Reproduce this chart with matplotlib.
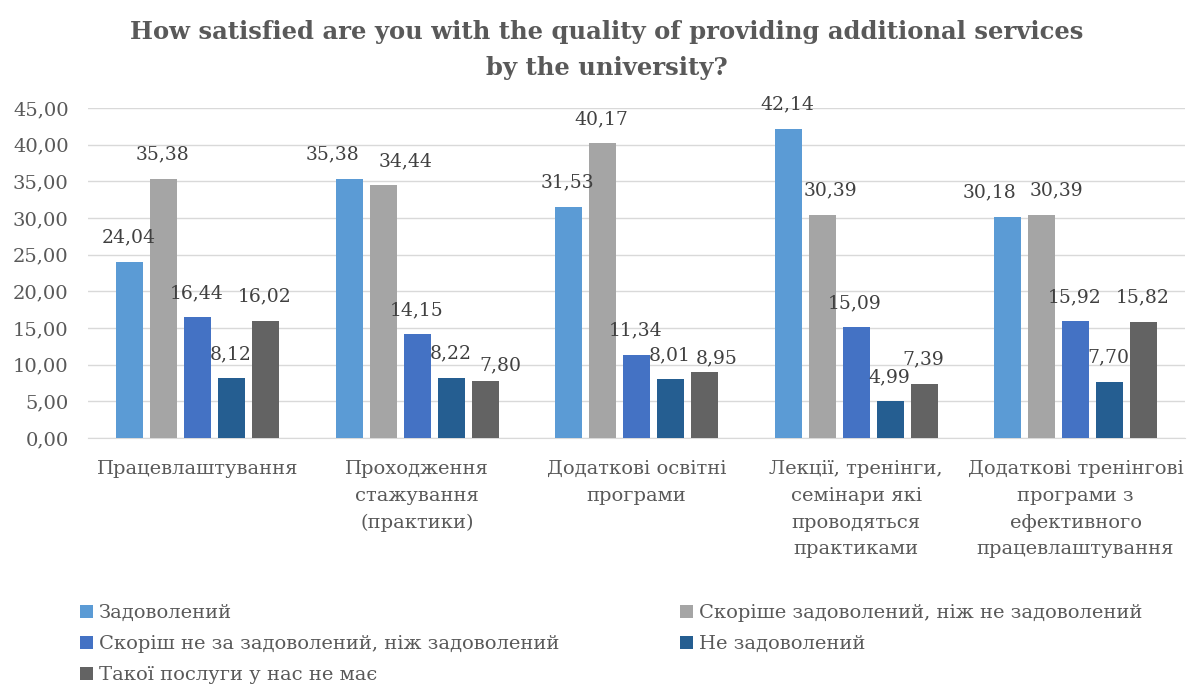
import matplotlib
matplotlib.use("Agg")
import matplotlib.pyplot as plt
import numpy as np
from matplotlib.patches import Patch

plt.rcParams['font.family'] = ['DejaVu Serif']

categories = [
    "Працевлаштування",
    "Проходження\nстажування\n(практики)",
    "Додаткові освітні\nпрограми",
    "Лекції, тренінги,\nсемінари які\nпроводяться\nпрактиками",
    "Додаткові тренінгові\nпрограми з\nефективного\nпрацевлаштування",
]
series_names = [
    "Задоволений",
    "Скоріше задоволений, ніж не задоволений",
    "Скоріш не за задоволений, ніж задоволений",
    "Не задоволений",
    "Такої послуги у нас не має",
]
satisfied = [24.04, 35.38, 31.53, 42.14, 30.18]
rather_satisfied = [35.38, 34.44, 40.17, 30.39, 30.39]
rather_unsatisfied = [16.44, 14.15, 11.34, 15.09, 15.92]
unsatisfied = [8.12, 8.22, 8.01, 4.99, 7.70]
no_service = [16.02, 7.80, 8.95, 7.39, 15.82]
series_values = [satisfied, rather_satisfied, rather_unsatisfied, unsatisfied, no_service]
colors = ["#5B9BD5", "#A5A5A5", "#4472C4", "#255E91", "#636363"]
yticks = [0, 5, 10, 15, 20, 25, 30, 35, 40, 45]

text_gray = "#595959"
label_dark = "#404040"

# Nudges (in points) for value labels that would otherwise collide:
# key = (category index, series index) -> (dx, dy)
label_nudge = {
    (1, 0): (-11.5, 0), (1, 1): (16.5, 0), (1, 4): (11.5, -6),
    (2, 4): (9.5, -7.5), (3, 1): (6.5, 0),
    (4, 0): (-12, 0), (4, 1): (11.5, 0),
}

fig = plt.figure(figsize=(11.9, 6.86), dpi=100)
ax = fig.add_axes([0.074, 0.3615, 0.922, 0.4811])

x = np.arange(len(categories))
step = 0.155
width = 0.123
for i, (name, vals, c) in enumerate(zip(series_names, series_values, colors)):
    pos = x + (i - 2) * step
    bars = ax.bar(pos, vals, width=width, color=c, label=name, zorder=3)
    for j, (b, v) in enumerate(zip(bars, vals)):
        dx, dy = label_nudge.get((j, i), (0, 0))
        ax.annotate(f"{v:.2f}".replace(".", ","),
                    (b.get_x() + b.get_width() / 2, v),
                    xytext=(dx - 0.7, 11 + dy), textcoords="offset points",
                    ha="center", va="bottom", fontsize=13.5, color=label_dark,
                    zorder=4)

ax.set_xlim(-0.5, len(categories) - 0.5)
ax.set_ylim(0, 45)
ax.set_yticks(yticks)
ax.set_yticklabels([f"{t:.2f}".replace(".", ",") for t in yticks],
                   fontsize=14, color=text_gray)
ax.set_xticks(x)
ax.set_xticklabels(categories, fontsize=14, color=text_gray, linespacing=1.62,
                   va="top")
ax.tick_params(axis="both", length=0)
ax.tick_params(axis="y", pad=14)
ax.tick_params(axis="x", pad=16)
ax.grid(axis="y", color="#D9D9D9", linewidth=1, zorder=0)
for s in ["top", "right", "left"]:
    ax.spines[s].set_visible(False)
ax.spines["bottom"].set_color("#D9D9D9")

fig.text(0.51, 0.927,
         "How satisfied are you with the quality of providing additional services\nby the university?",
         ha="center", va="center", fontsize=17.5, fontweight="bold",
         color=text_gray, linespacing=1.6)

def patch(c):
    return Patch(facecolor=c, edgecolor="none")

# Two legend columns laid out row by row
legend_kw = dict(loc="upper left", frameon=False, fontsize=14,
                 handlelength=0.65, handleheight=0.65, handletextpad=0.3,
                 labelspacing=0.68, labelcolor=text_gray, borderaxespad=0)
fig.legend([patch(colors[i]) for i in (0, 2, 4)],
           [series_names[i] for i in (0, 2, 4)],
           bbox_to_anchor=(0.061, 0.131), **legend_kw)
fig.legend([patch(colors[i]) for i in (1, 3)],
           [series_names[i] for i in (1, 3)],
           bbox_to_anchor=(0.565, 0.131), **legend_kw)

fig.savefig("out.png", dpi=100)
